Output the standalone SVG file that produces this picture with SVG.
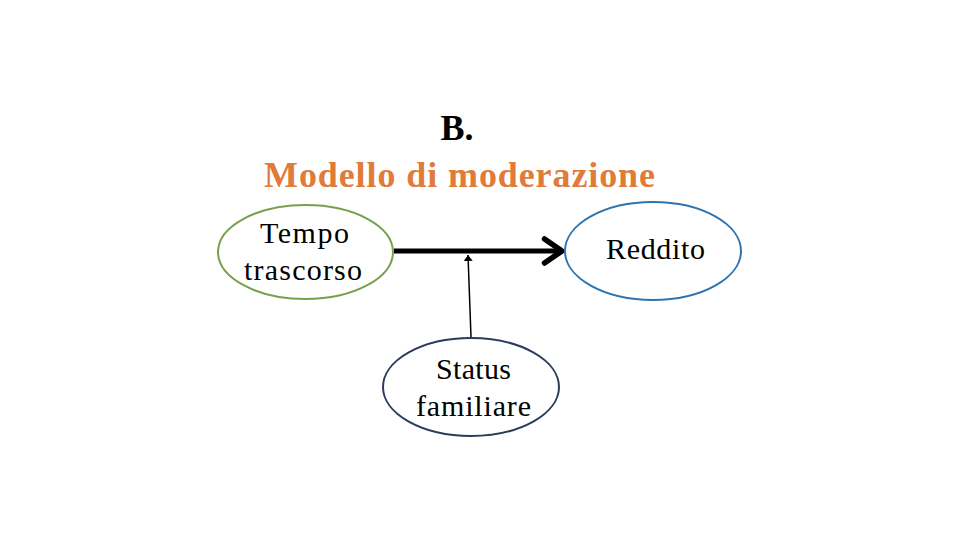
<svg xmlns="http://www.w3.org/2000/svg" width="960" height="540" viewBox="0 0 960 540">
<style>
.t{font-family:"Liberation Serif","Times New Roman",serif;font-size:30px;fill:#000;text-anchor:middle}
.e{fill:#fff;stroke-width:2}
</style>
<defs>
<marker id="big" markerWidth="6" markerHeight="6" refX="4.5" refY="3" orient="auto" markerUnits="strokeWidth">
<path d="M1,0.6 L4.5,3 L1,5.4" fill="none" stroke="#000" stroke-width="1.1" stroke-linecap="round" stroke-linejoin="round"/>
</marker>
<marker id="small" markerWidth="8" markerHeight="8" refX="4" refY="4" orient="auto" markerUnits="strokeWidth">
<path d="M0,1 L4,4 L0,7 Z" fill="#000"/>
</marker>
</defs>
<rect width="960" height="540" fill="#fff"/>
<g id="title">
<text x="457" y="140" font-family="'Liberation Serif','Times New Roman',serif" font-size="36" font-weight="bold" text-anchor="middle" fill="#000">B.</text>
<text x="459.5" y="187" font-family="'Liberation Serif','Times New Roman',serif" font-size="36" font-weight="bold" text-anchor="middle" fill="#E07B39" textLength="391" lengthAdjust="spacing">Modello di moderazione</text>
</g>
<g id="connectors">
<line x1="394" y1="251" x2="562" y2="251" stroke="#000" stroke-width="5" marker-end="url(#big)"/>
<line x1="471" y1="337" x2="468" y2="255" stroke="#000" stroke-width="1.5" marker-end="url(#small)"/>
</g>
<g id="tempo">
<ellipse class="e" cx="305.5" cy="252" rx="87.5" ry="47" stroke="#77A04F"/>
<text class="t" x="304.5" y="243" textLength="89" lengthAdjust="spacing">Tempo</text>
<text class="t" x="303" y="280" textLength="118" lengthAdjust="spacing">trascorso</text>
</g>
<g id="reddito">
<ellipse class="e" cx="653" cy="251" rx="88" ry="49" stroke="#2E75B0"/>
<text class="t" x="655.5" y="259" textLength="99" lengthAdjust="spacing">Reddito</text>
</g>
<g id="status">
<ellipse class="e" cx="471" cy="387" rx="88" ry="49" stroke="#2B3B5C"/>
<text class="t" x="473.5" y="379" textLength="75" lengthAdjust="spacing">Status</text>
<text class="t" x="473.5" y="416" textLength="115" lengthAdjust="spacing">familiare</text>
</g>
</svg>
